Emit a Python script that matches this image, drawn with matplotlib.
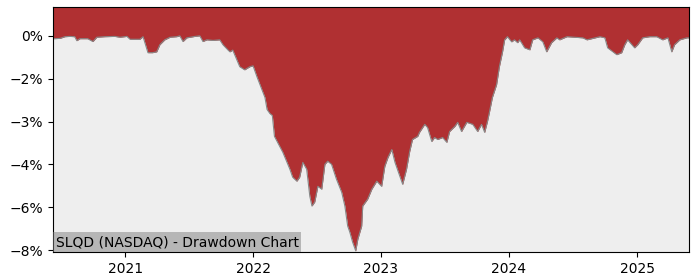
import numpy as np
import pandas as pd
import matplotlib
matplotlib.use("Agg")
import matplotlib.pyplot as plt
import matplotlib.dates as mdates
from matplotlib.ticker import MultipleLocator, PercentFormatter

# Drawdown (%)
dates = [
    "2020-06-09", "2020-06-29", "2020-07-13", "2020-07-27", "2020-08-10", "2020-08-16",
    "2020-08-25", "2020-09-16", "2020-10-01", "2020-10-12", "2020-11-04", "2020-12-03",
    "2020-12-17", "2021-01-06", "2021-01-15", "2021-02-12", "2021-02-21", "2021-03-07",
    "2021-03-20", "2021-04-01", "2021-04-10", "2021-04-24", "2021-05-09", "2021-05-28",
    "2021-06-06", "2021-06-15", "2021-06-26", "2021-07-19", "2021-08-02", "2021-08-11",
    "2021-08-22", "2021-09-09", "2021-09-28", "2021-10-07", "2021-10-21", "2021-10-27",
    "2021-11-04", "2021-11-12", "2021-11-24", "2021-12-08", "2021-12-23", "2022-01-01",
    "2022-01-12", "2022-01-26", "2022-02-04", "2022-02-10", "2022-02-18", "2022-02-25",
    "2022-03-03", "2022-03-18", "2022-03-27", "2022-04-08", "2022-04-16", "2022-04-24",
    "2022-05-06", "2022-05-14", "2022-05-23", "2022-06-03", "2022-06-12", "2022-06-18",
    "2022-06-26", "2022-07-05", "2022-07-16", "2022-07-25", "2022-08-02", "2022-08-13",
    "2022-08-27", "2022-09-11", "2022-09-20", "2022-09-28", "2022-10-04", "2022-10-12",
    "2022-10-21", "2022-10-27", "2022-11-07", "2022-11-10", "2022-11-24", "2022-12-06",
    "2022-12-20", "2023-01-03", "2023-01-12", "2023-01-21", "2023-02-01", "2023-02-10",
    "2023-02-24", "2023-03-04", "2023-03-15", "2023-03-24", "2023-04-01", "2023-04-16",
    "2023-04-21", "2023-05-06", "2023-05-14", "2023-05-26", "2023-06-03", "2023-06-12",
    "2023-06-26", "2023-07-08", "2023-07-16", "2023-07-31", "2023-08-08", "2023-08-19",
    "2023-09-03", "2023-09-20", "2023-10-04", "2023-10-15", "2023-10-24", "2023-11-01",
    "2023-11-07", "2023-11-15", "2023-11-27", "2023-12-05", "2023-12-14", "2023-12-20",
    "2023-12-28", "2024-01-09", "2024-01-17", "2024-01-26", "2024-02-01", "2024-02-15",
    "2024-03-01", "2024-03-09", "2024-03-24", "2024-04-07", "2024-04-18", "2024-05-02",
    "2024-05-17", "2024-05-25", "2024-06-15", "2024-07-30", "2024-08-11", "2024-09-17",
    "2024-10-01", "2024-10-09", "2024-10-24", "2024-11-04", "2024-11-18", "2024-11-27",
    "2024-12-05", "2024-12-17", "2024-12-25", "2025-01-03", "2025-01-17", "2025-02-06",
    "2025-02-26", "2025-03-15", "2025-03-30", "2025-04-10", "2025-04-18", "2025-05-03",
    "2025-05-23", "2025-05-28",
]
drawdown = [
    -0.10, -0.09, -0.03, -0.02, -0.03, -0.17,
    -0.10, -0.10, -0.20, -0.05, -0.03, -0.02,
    -0.05, -0.02, -0.12, -0.12, -0.03, -0.59,
    -0.59, -0.56, -0.31, -0.14, -0.05, -0.03,
    0.00, -0.20, -0.07, -0.02, 0.00, -0.20,
    -0.14, -0.16, -0.14, -0.31, -0.49, -0.56,
    -0.50, -0.73, -1.08, -1.19, -1.08, -1.05,
    -1.43, -1.88, -2.16, -2.58, -2.72, -2.79,
    -3.52, -3.87, -4.08, -4.43, -4.67, -4.95,
    -5.09, -4.95, -4.43, -4.67, -5.62, -5.96,
    -5.82, -5.27, -5.37, -4.50, -4.39, -4.50,
    -5.02, -5.48, -5.96, -6.66, -6.87, -7.22,
    -7.53, -7.12, -6.66, -5.96, -5.72, -5.37,
    -5.09, -5.27, -4.57, -4.26, -3.98, -4.43,
    -4.92, -5.20, -4.67, -4.05, -3.63, -3.52,
    -3.38, -3.10, -3.21, -3.70, -3.56, -3.63,
    -3.56, -3.73, -3.35, -3.17, -3.03, -3.35,
    -3.03, -3.10, -3.35, -3.10, -3.38, -3.00,
    -2.65, -2.16, -1.71, -1.08, -0.56, -0.14,
    -0.03, -0.21, -0.14, -0.24, -0.14, -0.42,
    -0.49, -0.14, -0.07, -0.21, -0.56, -0.24,
    -0.07, -0.14, -0.03, -0.07, -0.14, -0.03,
    -0.07, -0.42, -0.56, -0.66, -0.59, -0.31,
    -0.14, -0.31, -0.42, -0.31, -0.07, -0.03,
    -0.03, -0.14, -0.07, -0.56, -0.31, -0.14,
    -0.07, -0.07,
]
title = "SLQD (NASDAQ) - Drawdown Chart"

t = pd.to_datetime(dates)
dd = np.array(drawdown)
ytop = 1.01

fig = plt.figure(figsize=(7, 2.8), dpi=100)
ax = fig.add_axes([0.0757, 0.1, 0.908, 0.875])
ax.set_facecolor("#eeeeee")

ax.fill_between(t, dd, ytop, color="#b03032", linewidth=0)
ax.plot(t, dd, color="#888888", linewidth=0.8)

ax.set_ylim(-7.57, ytop)
ax.set_xlim(t[0], t[-1])
ax.yaxis.set_major_locator(MultipleLocator(1.5))
ax.yaxis.set_major_formatter(PercentFormatter(xmax=100, decimals=0))
ax.xaxis.set_major_locator(mdates.YearLocator())
ax.xaxis.set_major_formatter(mdates.DateFormatter("%Y"))

ax.text(0.004, 0.012, title, transform=ax.transAxes, fontsize=10,
        ha="left", va="bottom",
        bbox=dict(facecolor="gray", alpha=0.5, edgecolor="none", pad=2))

plt.savefig("out.png")
